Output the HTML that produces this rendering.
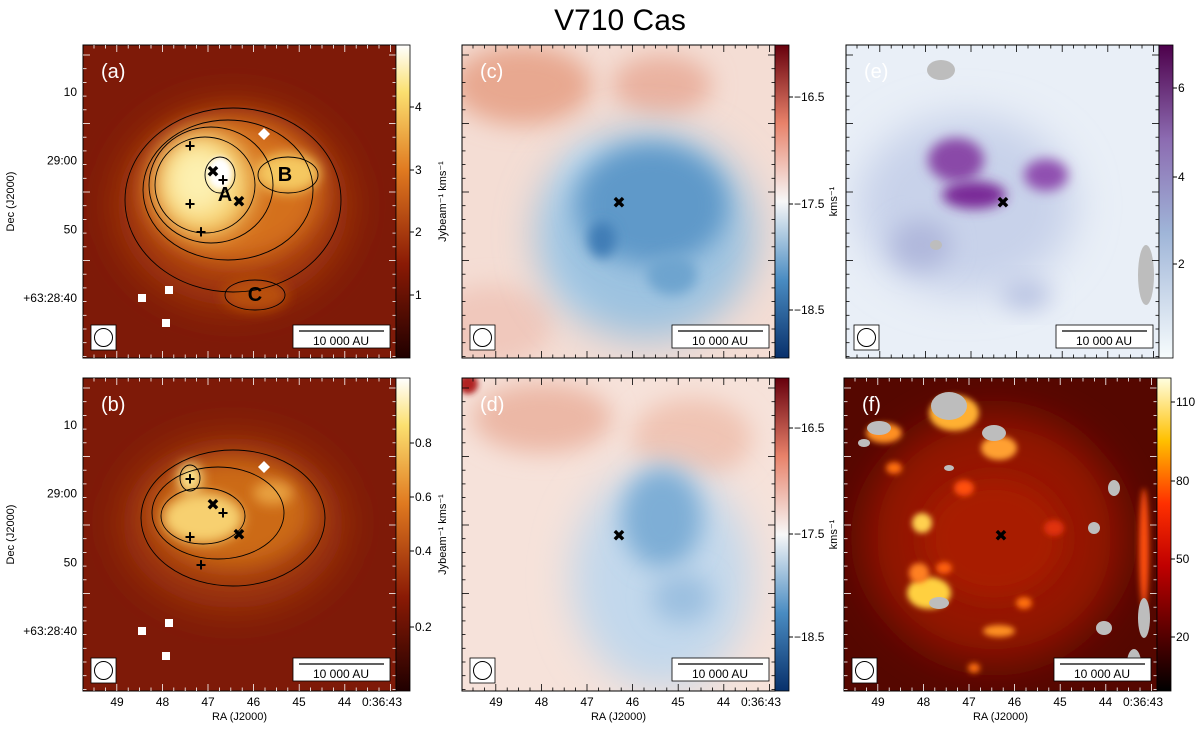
<!DOCTYPE html>
<html><head><meta charset="utf-8"><style>
body{margin:0;background:#fff;width:1200px;height:724px;overflow:hidden}
svg{font-family:"Liberation Sans","DejaVu Sans",sans-serif}
</style></head><body>
<svg id="fig" width="1200" height="724" viewBox="0 0 1200 724" xmlns="http://www.w3.org/2000/svg">
<defs>
<filter id="b6" x="-50%" y="-50%" width="200%" height="200%"><feGaussianBlur stdDeviation="6"/></filter>
<filter id="b12" x="-50%" y="-50%" width="200%" height="200%"><feGaussianBlur stdDeviation="12"/></filter>
<filter id="b20" x="-50%" y="-50%" width="200%" height="200%"><feGaussianBlur stdDeviation="20"/></filter>
<filter id="b3" x="-50%" y="-50%" width="200%" height="200%"><feGaussianBlur stdDeviation="3"/></filter>
<linearGradient id="gHot" x1="0" y1="1" x2="0" y2="0"><stop offset="0" stop-color="#200000"/><stop offset="0.3" stop-color="#8a1a05"/><stop offset="0.6" stop-color="#e07a20"/><stop offset="0.85" stop-color="#fbe070"/><stop offset="1" stop-color="#ffffff"/></linearGradient>
<linearGradient id="gRdBu" x1="0" y1="1" x2="0" y2="0"><stop offset="0" stop-color="#08306b"/><stop offset="0.25" stop-color="#4a8cc2"/><stop offset="0.5" stop-color="#f7f7f7"/><stop offset="0.75" stop-color="#e8826a"/><stop offset="1" stop-color="#67000d"/></linearGradient>
<linearGradient id="gBuPu" x1="0" y1="1" x2="0" y2="0"><stop offset="0" stop-color="#f7fcfd"/><stop offset="0.4" stop-color="#9fb5d8"/><stop offset="0.7" stop-color="#8c6bb1"/><stop offset="1" stop-color="#4d004b"/></linearGradient>
<linearGradient id="gFire" x1="0" y1="1" x2="0" y2="0"><stop offset="0" stop-color="#000"/><stop offset="0.4" stop-color="#c00000"/><stop offset="0.6" stop-color="#ff3000"/><stop offset="0.8" stop-color="#ffc000"/><stop offset="1" stop-color="#ffffe0"/></linearGradient>
</defs>
<text x="620" y="30" font-size="30" text-anchor="middle">V710 Cas</text>
</svg>
<script>
const NS="http://www.w3.org/2000/svg";
const fig=document.getElementById('fig');
const raLabels=["49","48","47","46","45","44","0:36:43"];
const decLabels=["10","29:00","50","+63:28:40"];
const cbA=["4","3","2","1"], cbAy=[107,170,232,295];
const cbB=["0.8","0.6","0.4","0.2"], cbBy=[443,497,551,627];
const cbC=["\u221216.5","\u221217.5","\u221218.5"], cbCy=[97,204,310];
const cbD=["\u221216.5","\u221217.5","\u221218.5"], cbDy=[428,534,637];
const cbE=["6","4","2"], cbEy=[88,177,264];
const cbF=["110","80","50","20"], cbFy=[402,481,559,637];
function el(t,a,p){const e=document.createElementNS(NS,t);for(const k in a)e.setAttribute(k,a[k]);(p||fig).appendChild(e);return e;}
const W=313,H=313;
const panels=[
 {id:'a',x:83,y:45,bg:'#7e1a08',grad:'gHot',labs:cbA,ly:cbAy,unit:'Jybeam\u207b\u00b9 kms\u207b\u00b9',left:true,bottom:false,
  blobs:[[150,160,115,100,'#a83c0c','b20'],[150,145,90,72,'#d4701a','b12'],[172,250,32,16,'#b8500f','b6'],[122,140,48,52,'#f7d070','b12'],[115,135,32,36,'#fdf0b0','b12'],[205,128,32,20,'#f5c860','b6'],[137,128,12,16,'#ffffff','b3']],
  contours:[[150,155,108,92],[145,145,85,70],[128,140,62,58],[122,140,50,48],[137,130,15,18],[205,130,30,18],[172,250,30,15]]},
 {id:'c',x:462,y:45,bg:'#f4ddd4',grad:'gRdBu',labs:cbC,ly:cbCy,unit:'kms\u207b\u00b9',left:false,bottom:false,
  blobs:[[60,40,70,40,'#e8a890','b12'],[200,40,50,30,'#eab2a0','b12'],[30,280,60,40,'#f0c8bc','b12'],[130,180,40,80,'#e6eef6','b12'],[185,190,110,105,'#9cc2e0','b20'],[190,160,75,60,'#5f99c9','b12'],[140,195,14,18,'#3f7db6','b6'],[210,230,25,20,'#6ea4cf','b6']]},
 {id:'e',x:846,y:45,bg:'#e9eff7',grad:'gBuPu',labs:cbE,ly:cbEy,unit:'10\u00b9\u2076cm\u207b\u00b2',left:false,bottom:false,
  blobs:[[120,160,110,90,'#c8d2ea','b20'],[110,115,28,22,'#8a4aa8','b6'],[128,150,32,14,'#7a2a98','b6'],[200,130,22,16,'#9050b0','b6'],[75,200,30,25,'#b0b8dc','b12'],[180,250,25,15,'#b8c2e2','b12']],
  grey:[[95,25,14,10],[300,230,8,30],[90,200,6,5]]},
 {id:'b',x:83,y:378,bg:'#7e1a08',grad:'gHot',labs:cbB,ly:cbBy,unit:'Jybeam\u207b\u00b9 kms\u207b\u00b9',left:true,bottom:true,
  blobs:[[150,145,110,85,'#a33a0c','b20'],[150,135,80,55,'#cc6a18','b12'],[120,140,40,25,'#f7d070','b6'],[107,100,12,15,'#fde890','b6'],[190,115,20,12,'#e8a040','b6']],
  contours:[[150,140,92,68],[135,135,66,46],[120,138,42,28],[107,100,10,13]]},
 {id:'d',x:462,y:378,bg:'#f6e2da',grad:'gRdBu',labs:cbD,ly:cbDy,unit:'kms\u207b\u00b9',left:false,bottom:true,
  blobs:[[80,40,70,35,'#ecb8a6','b12'],[230,60,60,40,'#f0c4b4','b12'],[200,200,90,110,'#c2d8ec','b20'],[200,140,40,50,'#7eaed6','b12'],[220,220,30,25,'#9cc0e0','b12'],[6,6,10,10,'#b02020','b3']]},
 {id:'f',x:844,y:378,bg:'#550700',grad:'gFire',labs:cbF,ly:cbFy,unit:'',left:false,bottom:true,
  blobs:[[150,160,130,125,'#941604','b20'],[150,160,70,60,'#a81e06','b12'],[78,145,10,10,'#ffd050','b3'],[85,215,22,16,'#ffd040','b3'],[75,195,10,10,'#ff8020','b3'],[155,70,18,12,'#ffa030','b3'],[110,35,25,18,'#ffb030','b3'],[40,55,18,10,'#ff9020','b3'],[300,170,5,60,'#ff5010','b3'],[155,253,16,6,'#ff9020','b3'],[100,190,8,6,'#ff6010','b3'],[180,225,8,6,'#ff7010','b3'],[50,90,8,6,'#ff7010','b3'],[120,110,10,8,'#ff5010','b3'],[210,150,10,8,'#e03010','b3'],[130,290,6,5,'#ff7010','b3']],
  grey:[[105,28,18,14],[35,50,12,7],[150,55,12,8],[95,225,10,6],[300,240,6,20],[290,285,7,14],[105,90,5,3],[250,150,6,6],[260,250,8,7],[20,65,6,4],[270,110,6,8]]}
];
panels.forEach(p=>{
  const g=el('g',{});
  
  
  const cp=el('clipPath',{id:'cp'+p.id},g);el('rect',{x:p.x,y:p.y,width:W,height:H},cp);
  const img=el('g',{'clip-path':'url(#cp'+p.id+')'},g);
  el('rect',{x:p.x,y:p.y,width:W,height:H,fill:p.bg},img);
  p.blobs.forEach(b=>{const e=el('ellipse',{cx:p.x+b[0],cy:p.y+b[1],rx:b[2],ry:b[3],fill:b[4],filter:'url(#'+b[5]+')'},img);
    });
  (p.grey||[]).forEach(b=>{const e=el('ellipse',{cx:p.x+b[0],cy:p.y+b[1],rx:b[2],ry:b[3],fill:'#bdbdbd'},img);
    });
  if(p.contours){
    p.contours.forEach(c=>{
      const e=el('ellipse',{cx:p.x+c[0],cy:p.y+c[1],rx:c[2],ry:c[3],fill:'none',stroke:'#000','stroke-width':0.9},img);
      
    });
    [[59,253],[86,245],[83,278]].forEach(q=>{const e=el('rect',{x:p.x+q[0]-4,y:p.y+q[1]-4,width:8,height:8,fill:'#fff'},img);});
    const d=el('path',{d:`M${p.x+181} ${p.y+83}l6 6l-6 6l-6 -6z`,fill:'#fff'},img);
    [[107,102],[107,160],[140,136],[118,188]].forEach(q=>{const t=el('text',{x:p.x+q[0],y:p.y+q[1]+5,'font-size':18,'font-weight':'bold','text-anchor':'middle'},img);t.textContent='+';});
    [[130,126],[156,156]].forEach(q=>{const t=el('text',{x:p.x+q[0],y:p.y+q[1]+6,'font-size':16,'font-weight':'bold','text-anchor':'middle'},img);t.textContent='\u2716';});
    if(p.id==='a'){[['A',142,156],['B',202,136],['C',172,256]].forEach(q=>{const t=el('text',{x:p.x+q[1],y:p.y+q[2],'font-size':20,'font-weight':'bold','text-anchor':'middle'},img);t.textContent=q[0];});}
  } else {
    const t=el('text',{x:p.x+157,y:p.y+163,'font-size':16,'font-weight':'bold','text-anchor':'middle'},img);t.textContent='\u2716';
    
  }
  const lb=el('text',{x:p.x+18,y:p.y+33,'font-size':20,fill:'#fff'},g);lb.textContent='('+p.id+')';
  
  el('rect',{x:p.x+8,y:p.y+280,width:25,height:25,fill:'#fff',stroke:'#000','stroke-width':0.8},g);
  const bm=el('circle',{cx:p.x+20.5,cy:p.y+292.5,r:9,fill:'none',stroke:'#000'},g);
  el('rect',{x:p.x+210,y:p.y+280,width:97,height:23,fill:'#fff',stroke:'#000','stroke-width':0.8},g);
  el('line',{x1:p.x+216,x2:p.x+301,y1:p.y+286,y2:p.y+286,stroke:'#000','stroke-width':1.2},g);
  const sb=el('text',{x:p.x+258,y:p.y+300,'font-size':12,'text-anchor':'middle'},g);sb.textContent='10 000 AU';
  
  el('rect',{x:p.x,y:p.y,width:W,height:H,fill:'none',stroke:'#000','stroke-width':1},g);
  const tc=p.id==='c'||p.id==='d'||p.id==='e'?'#000':'#fff';
  for(let i=0;i<28;i++){const xx=p.x+11+i*11.4;const L=(i%4===2)?7:3.5;
    el('line',{x1:xx,x2:xx,y1:p.y+H,y2:p.y+H-L,stroke:tc,'stroke-width':0.8},g);el('line',{x1:xx,x2:xx,y1:p.y,y2:p.y+L,stroke:tc,'stroke-width':0.8},g);}
  for(let i=0;i<23;i++){const yy=p.y+10+i*13.7;const L=(i%5===0&&i<20)?7:3.5;
    el('line',{x1:p.x,x2:p.x+L,y1:yy,y2:yy,stroke:tc,'stroke-width':0.8},g);el('line',{x1:p.x+W,x2:p.x+W-L,y1:yy,y2:yy,stroke:tc,'stroke-width':0.8},g);}
  if(p.bottom){raLabels.forEach((s,i)=>{const t=el('text',{x:p.x+34+i*45.5+(i===6?-8:0),y:p.y+H+15,'font-size':12,'text-anchor':'middle'},g);t.textContent=s;
      });
    const at=el('text',{x:p.x+W/2,y:p.y+H+29,'font-size':11,'text-anchor':'middle'},g);at.textContent='RA (J2000)';
    }
  if(p.left){decLabels.forEach((s,i)=>{const t=el('text',{x:p.x-6,y:p.y+47+i*68.7+4,'font-size':12,'text-anchor':'end'},g);t.textContent=s;
      });
    const yt=el('text',{x:0,y:0,'font-size':11,'text-anchor':'middle',transform:`translate(14 ${p.y+H/2}) rotate(-90)`},g);yt.textContent='Dec (J2000)';
    }
  const cb=el('rect',{x:p.x+W,y:p.y,width:14,height:H,fill:'url(#'+p.grad+')',stroke:'#000','stroke-width':0.8},g);
  
  p.labs.forEach((s,i)=>{const yy=p.ly[i];el('line',{x1:p.x+W+14,x2:p.x+W+18,y1:yy,y2:yy,stroke:'#000'},g);
    const t=el('text',{x:p.x+W+19,y:yy+4,'font-size':12},g);t.textContent=s;});
  if(p.unit){const ux=p.id==='a'||p.id==='b'?p.x+W+50:p.x+W+62;const ut=el('text',{x:0,y:0,'font-size':11,'text-anchor':'middle',transform:`translate(${ux} ${p.y+H/2}) rotate(-90)`},g);ut.textContent=p.unit;
    }
});
</script>
</body></html>
